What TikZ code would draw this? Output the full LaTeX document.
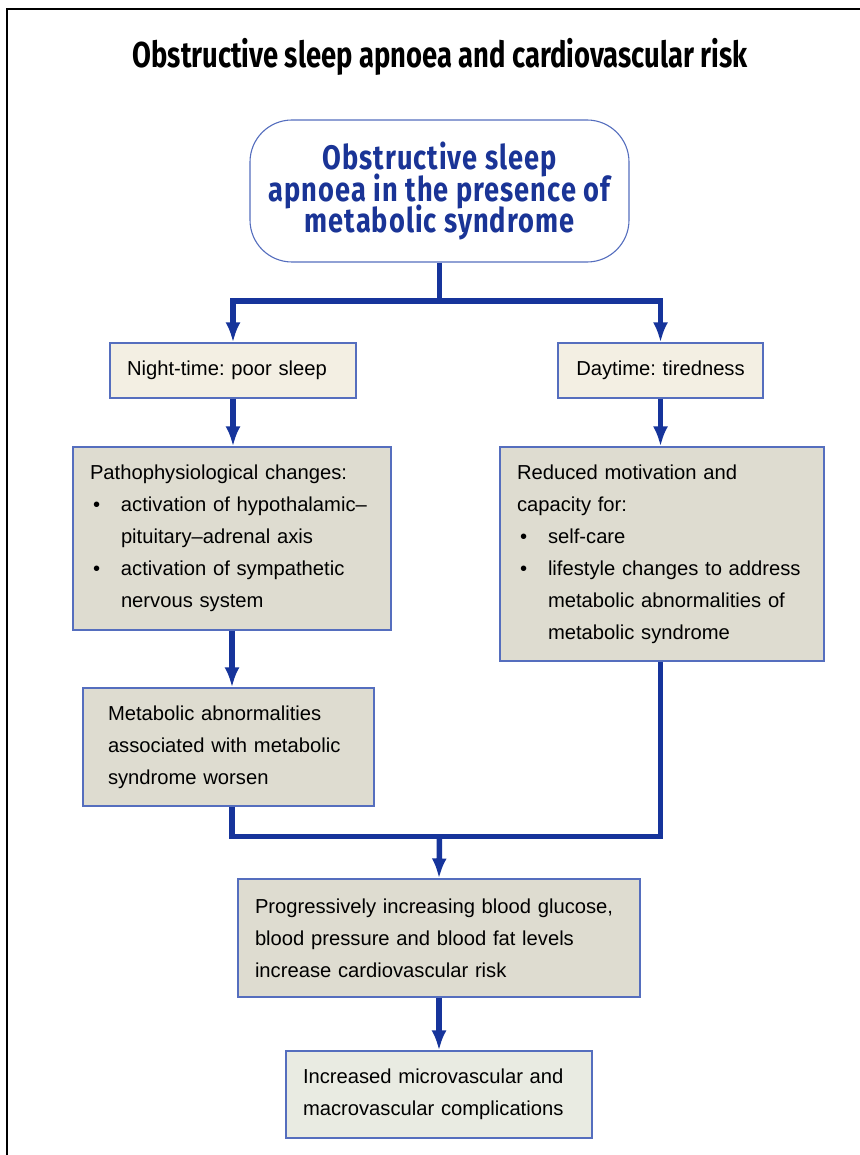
\documentclass[tikz,border=0pt]{standalone}
\usepackage{fontspec}
\setmainfont{Liberation Sans}
\newfontfamily\headfont[FakeStretch=0.76]{Fira Sans}
\newfontfamily\boxfont[FakeStretch=0.8,LetterSpace=3]{Fira Sans}
\usetikzlibrary{arrows.meta,positioning,calc}
\definecolor{flowblue}{RGB}{22,52,155}
\definecolor{edgeblue}{RGB}{85,110,190}
\definecolor{headblue}{RGB}{26,52,150}
\definecolor{creamfill}{RGB}{243,239,227}
\definecolor{stonefill}{RGB}{222,220,208}
\definecolor{palefill}{RGB}{233,235,226}
\newcommand{\tightlines}{\lineskiplimit=-20pt\relax}
\newcommand{\bitem}[1]{\par\noindent\hspace*{3pt}\makebox[28pt][l]{\textbullet}#1}
\newcommand{\bmore}[1]{\par\noindent\hspace*{31pt}#1}

\begin{document}
\begin{tikzpicture}[
    x=1pt, y=-1pt,
    box/.style={rectangle, draw=edgeblue, line width=1.1pt, align=left, inner xsep=17pt, inner ysep=0pt, font=\fontsize{20.2}{32}\selectfont\frenchspacing\tightlines},
    link/.style={flowblue, line width=5.5pt},
    arrow/.style={link, -{Latex[length=20pt,width=15pt]}}
]
\useasboundingbox (0,0) rectangle (859,1155);

% Frame and title
\draw[line width=1.8pt] (7,1170) -- (7,9) -- (870,9);
\node[anchor=base, font=\headfont\bfseries\fontsize{36}{40}\selectfont] (title) at (440,68) {Obstructive sleep apnoea and cardiovascular risk};

% Top condition
\node[rectangle, rounded corners=42pt, draw=edgeblue, line width=1.1pt, fill=white, minimum width=379pt, minimum height=142pt, align=center, text=headblue, font=\boxfont\bfseries\fontsize{34}{31.5}\selectfont\tightlines] (osa) at (439.5,191) {Obstructive sleep\\apnoea in the presence of\\metabolic syndrome};

% Night / day
\node[box, fill=creamfill, text width=212pt, minimum height=55pt] (night) at (233,370.5) {Night-time: poor sleep};
\node[box, fill=creamfill, inner xsep=8pt, text width=189pt, align=center, minimum height=55pt] (day) at (660.5,370.5) {Daytime: tiredness};

% Consequences
\node[box, fill=stonefill, text width=284pt, minimum height=183pt] (patho) at (232,538.5) {Pathophysiological changes:
\bitem{activation of hypothalamic–}
\bmore{pituitary–adrenal axis}
\bitem{activation of sympathetic}
\bmore{nervous system}};
\node[box, fill=stonefill, text width=290pt, minimum height=214pt] (reduced) at (662,554) {Reduced motivation and\\capacity for:
\bitem{self-care}
\bitem{lifestyle changes to address}
\bmore{metabolic abnormalities of}
\bmore{metabolic syndrome}};
\node[box, fill=stonefill, inner xsep=25pt, text width=241pt, minimum height=118pt] (metab) at (228.5,747) {Metabolic abnormalities\\associated with metabolic\\syndrome worsen};

% Outcome
\node[box, fill=stonefill, text width=368pt, minimum height=118pt] (prog) at (439,938) {Progressively increasing blood glucose,\\blood pressure and blood fat levels\\increase cardiovascular risk};
\node[box, fill=palefill, text width=272pt, minimum height=87pt] (incr) at (439,1094.5) {Increased microvascular and\\macrovascular complications};

% Split
\coordinate (fork) at (439.5,301);
\draw[link] (osa.south) -- (fork);
\draw[arrow] (fork) -| (night.north);
\draw[arrow] (fork) -| (day.north);

% Down the two sides
\draw[arrow] (night.south) -- (night.south |- patho.north);
\draw[arrow] (day.south) -- (day.south |- reduced.north);
\draw[arrow] (patho.south) -- (patho.south |- metab.north);

% Merge
\coordinate (merge) at (439.5,836.5);
\draw[link] (metab.south -| patho.south) |- (merge) -| (reduced.south -| day.south);
\draw[arrow] (merge) -- (prog.north);
\draw[arrow] (prog) -- (incr);

\end{tikzpicture}
\end{document}
